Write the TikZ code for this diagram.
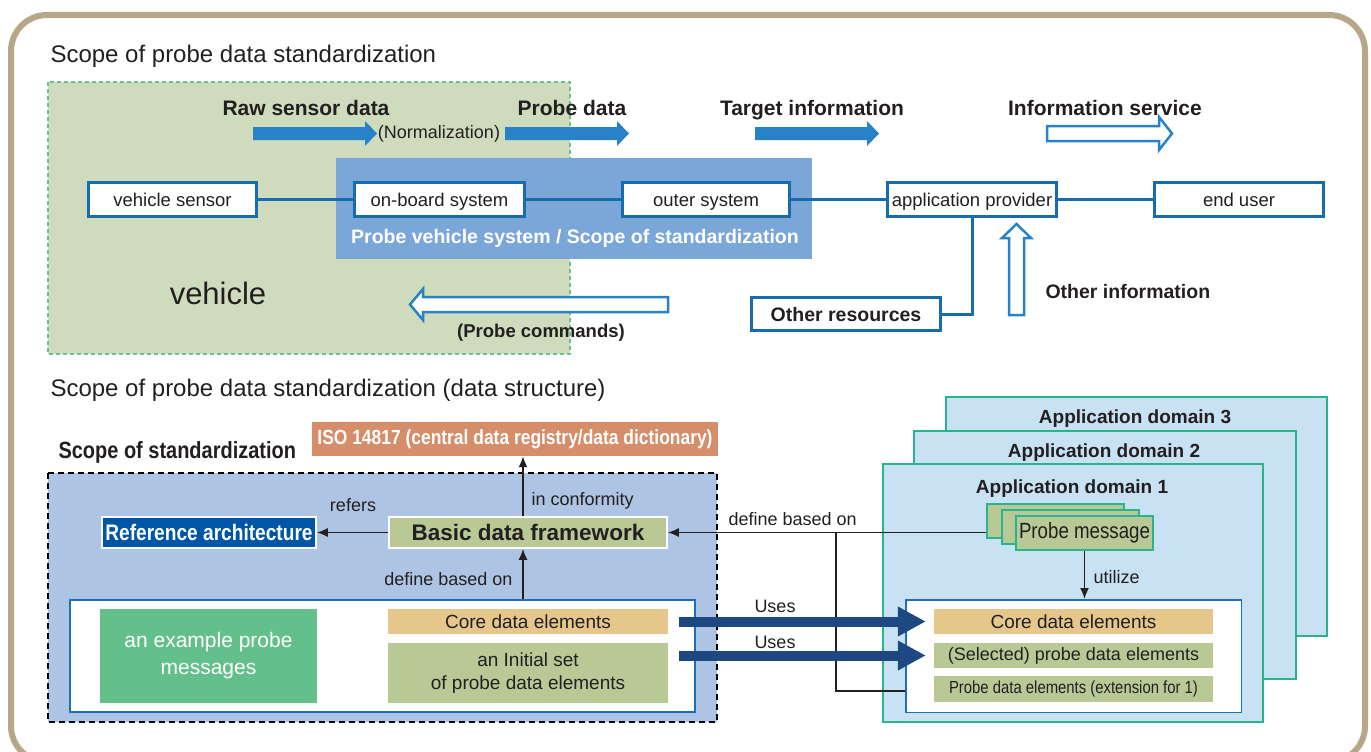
\documentclass[tikz,border=0pt]{standalone}
\usepackage{fontspec}
\setmainfont{Liberation Sans}
\setsansfont{Liberation Sans}
\newfontfamily\condfont{Liberation Sans}[FakeStretch=0.85]
\usetikzlibrary{positioning,arrows.meta}

\begin{document}
\begin{tikzpicture}[x=1pt, y=-1pt, font=\sffamily,
	every node/.style={text=darktext},
	title/.style={font=\sffamily\fontsize{24}{28}\selectfont, anchor=base west},
	flowlbl/.style={font=\sffamily\fontsize{21}{25}\selectfont\bfseries, anchor=base},
	note/.style={font=\sffamily\fontsize{18}{21}\selectfont, anchor=base},
	box/.style={draw=boxblue, line width=3pt, fill=white, minimum height=34pt, inner sep=0pt, text height=13pt, text depth=0pt, font=\sffamily\fontsize{18.5}{22}\selectfont},
	link/.style={draw=boxblue, line width=3pt},
	bigarrow/.style={fill=arrowblue},
	hollowarrow/.style={draw=arrowblue, line width=2.5pt, fill=white, line join=miter},
	flat/.style={inner sep=0pt, minimum height=25pt, font=\sffamily\fontsize{19}{22}\selectfont},
	conn/.style={draw=darktext, line width=1.8pt, -{Latex[length=11pt,width=9pt]}},
	plain/.style={draw=darktext, line width=1.8pt},
	uses/.style={draw=usesblue, line width=10pt, -{Triangle[length=28pt,width=28pt]}},
	appdomain/.style={draw=domainborder, line width=2pt, fill=domainfill, inner sep=0pt},
	domlbl/.style={font=\sffamily\fontsize{19}{22}\selectfont\bfseries, anchor=base},
	pmbox/.style={draw=domainborder, line width=2pt, fill=basicgreen, minimum width=137pt, minimum height=34pt, inner sep=0pt},
	inner/.style={draw=innerblue, line width=1.5pt, fill=white, inner sep=0pt}
	]

		% Farben definieren
		\definecolor{frametan}{RGB}{184,166,137}
		\definecolor{vehgreen}{RGB}{206,219,189}
		\definecolor{vehdash}{RGB}{100,195,145}
		\definecolor{probeblue}{RGB}{122,166,216}
		\definecolor{boxblue}{RGB}{22,108,172}
		\definecolor{arrowblue}{RGB}{40,130,200}
		\definecolor{darktext}{RGB}{35,31,32}
		\definecolor{scopeblue}{RGB}{174,196,228}
		\definecolor{isoorange}{RGB}{214,141,106}
		\definecolor{refblue}{RGB}{0,86,166}
		\definecolor{basicgreen}{RGB}{184,201,150}
		\definecolor{msggreen}{RGB}{99,192,138}
		\definecolor{coreorange}{RGB}{229,198,139}
		\definecolor{innerblue}{RGB}{30,110,185}
		\definecolor{domainfill}{RGB}{200,225,243}
		\definecolor{domainborder}{RGB}{40,180,140}
		\definecolor{usesblue}{RGB}{30,72,130}

		% Rahmen
		\useasboundingbox (0,0) rectangle (1371,752);
		\clip (0,0) rectangle (1371,752);
		\draw[draw=frametan, line width=6pt, rounded corners=36pt] (11,15) rectangle (1365,762);

		% --- Obere Haelfte: Systemkette ---
		\node[title] (t1) at (47,63) {Scope of probe data standardization};
		\draw[draw=vehdash, line width=1.5pt, dash pattern=on 4pt off 3pt, fill=vehgreen] (48,82) rectangle (570,354);
		\fill[probeblue] (336,158) rectangle (812,259);
		\node[font=\sffamily\fontsize{19.5}{23}\selectfont\bfseries, text=white, anchor=base] (pvs) at (575,243) {Probe vehicle system / Scope of standardization};
		\node[font=\sffamily\fontsize{31}{36}\selectfont, anchor=base] (veh) at (218,304) {vehicle};

		\node[box, minimum width=168pt] (vs) at (172.5,199.5) {vehicle sensor};
		\node[box, minimum width=170pt, right=95pt of vs] (ob) {on-board system};
		\node[box, minimum width=167pt, right=95pt of ob] (os) {outer system};
		\node[box, minimum width=169pt, right=95pt of os] (ap) {application provider};
		\node[box, minimum width=169pt, right=95pt of ap] (eu) {end user};
		\foreach \a/\b in {vs/ob,ob/os,os/ap,ap/eu}
			\draw[link] (\a) -- (\b);

		% Datenfluss-Pfeile
		\foreach \x in {253,505,755}
			\fill[bigarrow] (\x,127) -- ++(112,0) -- ++(0,-6) -- ++(12,12.5) -- ++(-12,12.5) -- ++(0,-6) -- ++(-112,0) -- cycle;
		\draw[hollowarrow] (1047,126) -- (1159,126) -- (1159,117) -- (1172,133.5) -- (1159,150) -- (1159,141) -- (1047,141) -- cycle;

		\node[flowlbl] (raw) at (306,115) {Raw sensor data};
		\node[note] (norm) at (439,138) {(Normalization)};
		\node[flowlbl] (pd) at (572,115) {Probe data};
		\node[flowlbl] (ti) at (812,115) {Target information};
		\node[flowlbl] (is) at (1105,115) {Information service};

		% Rueckkanal und weitere Quellen
		\draw[hollowarrow] (668,297) -- (423,297) -- (423,289) -- (410,304.5) -- (423,320) -- (423,312) -- (668,312) -- cycle;
		\node[font=\sffamily\fontsize{18.5}{22}\selectfont\bfseries, anchor=base] (pc) at (541,337) {(Probe commands)};

		\node[box, minimum width=189pt, minimum height=33pt, text height=14pt, font=\sffamily\fontsize{19.5}{23}\selectfont\bfseries] (or) at (846,314) {Other resources};
		\draw[link] (ap.south) |- (or.east);

		\draw[hollowarrow] (1009,315) -- (1009,238) -- (1002,238) -- (1016.5,224) -- (1031,238) -- (1024,238) -- (1024,315) -- cycle;
		\node[font=\sffamily\fontsize{19.5}{23}\selectfont\bfseries, anchor=base west] (oi) at (1042,298) {Other information};

		% --- Untere Haelfte: Datenstruktur ---
		\node[title] (t2) at (47,396) {Scope of probe data standardization (data structure)};
		\node[font=\condfont\fontsize{23.5}{27}\selectfont\bfseries, anchor=base west] (sos) at (55,458) {Scope of standardization};
		\node[fill=isoorange, minimum width=406pt, minimum height=34pt, inner sep=0pt, text=white, font=\condfont\fontsize{20.5}{24}\selectfont\bfseries] (iso) at (515,439) {ISO 14817 (central data registry/data dictionary)};

		\draw[draw=black, line width=2pt, dash pattern=on 6pt off 4pt, fill=scopeblue] (48,473) rectangle (717,722);

		\node[fill=refblue, draw=white, line width=1.5pt, minimum width=214pt, minimum height=31pt, inner sep=0pt, text=white, font=\condfont\fontsize{22.5}{26}\selectfont\bfseries] (ref) at (209,532.5) {Reference architecture};
		\node[fill=basicgreen, draw=white, line width=1.5pt, minimum width=278pt, minimum height=31pt, inner sep=0pt, font=\sffamily\fontsize{22.5}{26}\selectfont\bfseries] (basic) at (528,532.5) {Basic data framework};

		\coordinate (axis) at (523,0);
		\draw[conn] (basic) -- (ref);
		\node[note] (refers) at (353,511) {refers};
		\draw[conn] (axis |- basic.north) -- (axis |- iso.south);
		\node[note, anchor=base west] (conf) at (528,505) {in conformity};

		\node[inner, minimum width=625pt, minimum height=112pt] (innerL) at (382.5,656) {};
		\draw[conn] (axis |- innerL.north) -- (axis |- basic.south);
		\node[note, anchor=base east] (dbo1) at (516,585) {define based on};

		\node[fill=msggreen, minimum width=217pt, minimum height=94pt, inner sep=0pt, text=white, align=center, font=\sffamily\fontsize{21}{27}\selectfont] (ex) at (208.5,656) {an example probe\\messages};
		\node[flat, fill=coreorange, minimum width=280pt] (coreL) at (528,621.5) {Core data elements};
		\node[flat, fill=basicgreen, minimum width=280pt, minimum height=60pt, align=center, font=\sffamily\fontsize{19}{22.5}\selectfont] (initL) at (528,673) {an Initial set\\of probe data elements};

		% Anwendungsdomaenen
		\node[appdomain, minimum width=381pt, minimum height=239pt] (dom3) at (1136.5,516.5) {};
		\node[domlbl] (dom3l) at (1135,423) {Application domain 3};
		\node[appdomain, minimum width=382pt, minimum height=248pt] (dom2) at (1105,555) {};
		\node[domlbl] (dom2l) at (1104,457) {Application domain 2};
		\node[appdomain, minimum width=380pt, minimum height=258pt] (dom1) at (1073,593) {};
		\node[domlbl] (dom1l) at (1072,493) {Application domain 1};

		\node[pmbox] (pm1) at (1055.5,520.5) {};
		\node[pmbox] (pm2) at (1070,526.5) {};
		\node[pmbox, font=\condfont\fontsize{22}{26}\selectfont] (pm3) at (1084.5,533) {Probe message};

		\node[inner, minimum width=335.5pt, minimum height=112.5pt] (innerR) at (1073.5,656) {};
		\node[flat, fill=coreorange, minimum width=279pt] (coreR) at (1073.5,621.5) {Core data elements};
		\node[flat, fill=basicgreen, minimum width=279pt, font=\sffamily\fontsize{18}{21}\selectfont] (selR) at (1073.5,655.5) {(Selected) probe data elements};
		\node[flat, fill=basicgreen, minimum width=279pt, minimum height=26pt, font=\condfont\fontsize{17.5}{20}\selectfont] (extR) at (1073.5,689) {Probe data elements (extension for 1)};

		\draw[conn] (pm3.south) -- (pm3.south |- innerR.north);
		\node[note, anchor=base west] (util) at (1090,583) {utilize};

		% Verbindungen zur Basisstruktur
		\coordinate (jb) at (836,691);
		\draw[conn] (pm1.west |- basic.east) -- (basic.east);
		\draw[plain] (jb -| innerR.west) -- (jb) -- (jb |- basic.east);
		\node[note, anchor=base west] (dbo2) at (725,525) {define based on};

		\draw[uses, shorten <=11pt, shorten >=8pt] (coreL.east) -- (coreL.east -| coreR.west);
		\draw[uses, shorten <=11pt, shorten >=8pt] (selR.west -| coreL.east) -- (selR.west);
		\node[note] (u1) at (775,612) {Uses};
		\node[note] (u2) at (775,648) {Uses};

	\end{tikzpicture}
\end{document}
